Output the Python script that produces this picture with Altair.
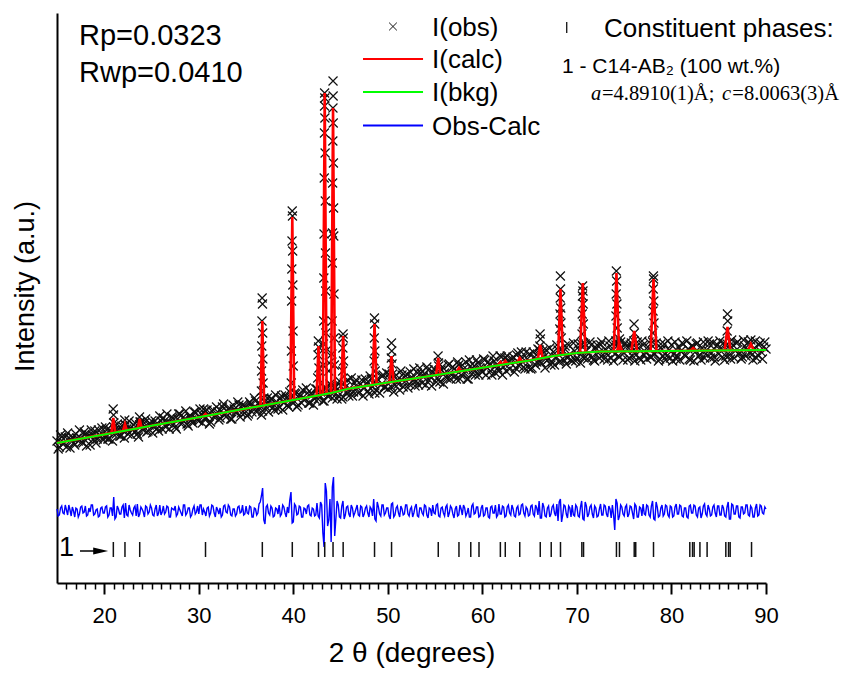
import altair as alt
import numpy as np
import pandas as pd

FONT = "Liberation Sans"
SERIF = "Liberation Serif"

# ---------------- data ----------------
# scan grid 2-theta 15..90 deg; points at 0.25 deg plus the in-between points (values estimated)
scan_start, scan_step = 15.0, 0.25
mid_start = 15.125

obs_band = [
    142, 136, 146, 140, 136, 145, 143, 140, 149, 142, 145, 140, 149, 145, 138, 148, 152, 144, 148, 155,
    146, 153, 144, 151, 156, 149, 154, 147, 152, 158, 149, 155, 153, 160, 149, 158, 154, 160, 151, 158,
    162, 156, 159, 152, 162, 165, 156, 160, 160, 165, 156, 164, 169, 160, 164, 159, 167, 163, 171, 164,
    162, 169, 174, 165, 168, 161, 173, 168, 171, 165, 176, 168, 172, 175, 164, 174, 171, 178, 170, 177,
    176, 169, 179, 175, 182, 174, 177, 172, 181, 185, 177, 184, 173, 181, 176, 187, 180, 185, 176, 185,
    180, 189, 178, 187, 193, 184, 190, 180, 188, 184, 194, 188, 192, 182, 195, 188, 198, 190, 196, 187,
    197, 186, 196, 203, 192, 187, 200, 196, 191, 203, 195, 200, 189, 204, 199, 193, 203, 198, 208, 196,
    194, 204, 209, 198, 203, 193, 208, 201, 209, 199, 206, 214, 202, 198, 210, 206, 198, 213, 206, 211,
    213, 205, 201, 216, 210, 205, 219, 208, 214, 204, 218, 208, 214, 221, 204, 217, 213, 208, 220, 215,
    211, 223, 215, 219, 208, 222, 218, 212, 226, 216, 212, 223, 220, 226, 215, 230, 219, 225, 214, 224,
    229, 215, 226, 221, 233, 220, 226, 233, 224, 218, 231, 226, 233, 222, 231, 237, 225, 229, 222, 232,
    225, 233, 239, 225, 232, 229, 238, 223, 235, 230, 238, 228, 234, 223, 237, 232, 229, 240, 226, 235,
    230, 237, 225, 240, 233, 228, 235, 223, 238, 231, 236, 226, 241, 229, 232, 224, 234, 239, 227, 233,
    238, 229, 224, 236, 232, 239, 227, 234, 223, 237, 231, 240, 228, 235, 225, 233, 239, 230, 226, 237,
    229, 235, 240, 227, 236, 224, 238, 232, 241, 230, 226, 237, 233, 239, 228, 235, 225, 238, 231, 236,
    234,
]
obs_band_mid = [
    134, 148, 139, 146, 150, 135, 146, 138, 145, 153, 141, 151, 137, 148, 153, 144, 140, 153, 147, 143,
    156, 144, 153, 142, 153, 159, 147, 157, 145, 154, 162, 148, 158, 152, 146, 161, 153, 164, 152, 159,
    150, 162, 155, 167, 154, 162, 169, 154, 166, 159, 154, 169, 159, 166, 172, 157, 165, 160, 171, 163,
    174, 160, 165, 173, 159, 172, 166, 176, 163, 172, 179, 166, 174, 164, 178, 171, 181, 166, 178, 170,
    167, 181, 171, 185, 171, 180, 168, 185, 176, 171, 184, 176, 188, 174, 185, 173, 188, 178, 191, 181,
    190, 176, 188, 180, 183, 195, 180, 190, 178, 194, 184, 191, 182, 195, 187, 199, 185, 196, 184, 202,
    184, 200, 191, 187, 205, 191, 203, 190, 199, 187, 204, 192, 207, 196, 190, 204, 190, 207, 196, 210,
    209, 196, 191, 208, 199, 212, 196, 207, 195, 211, 202, 197, 210, 215, 200, 209, 216, 203, 197, 214,
    201, 217, 213, 199, 206, 218, 204, 216, 207, 221, 204, 218, 210, 204, 223, 209, 217, 223, 208, 212,
    224, 208, 221, 212, 227, 210, 215, 227, 208, 225, 227, 214, 224, 211, 228, 217, 231, 216, 231, 215,
    214, 231, 218, 234, 221, 232, 215, 223, 235, 221, 218, 238, 221, 234, 223, 219, 238, 223, 240, 222,
    239, 220, 226, 239, 224, 241, 226, 222, 238, 225, 241, 224, 229, 242, 225, 222, 238, 227, 241, 223,
    240, 223, 238, 227, 222, 241, 225, 242, 228, 224, 241, 226, 229, 240, 222, 239, 227, 223, 242, 225,
    222, 241, 227, 223, 240, 228, 242, 224, 237, 222, 239, 227, 223, 241, 229, 242, 225, 240, 222, 238,
    242, 226, 223, 239, 228, 243, 225, 240, 229, 224, 243, 227, 241, 230, 223, 242, 228, 240, 224, 241,
]

# observed points on the Bragg peaks (2-theta, intensity)
obs_peak_x = [
    20.94, 20.98, 21.02, 22.17, 22.22, 23.73, 23.78, 30.71,
    36.70, 36.74, 36.68, 36.76, 36.66, 36.78, 36.64, 36.80, 36.62,
    39.88, 39.91, 39.86, 39.93, 39.84, 39.95, 39.82, 39.97, 39.80, 39.99, 39.78,
    42.64, 42.68, 42.61, 42.71, 42.58,
    43.31, 43.33, 43.30, 43.34, 43.29, 43.36, 43.27, 43.38, 43.25, 43.40, 43.23, 43.42,
    43.21, 43.44, 43.19, 43.46, 43.17, 43.75, 43.80,
    44.20, 44.21, 44.19, 44.22, 44.18, 44.24, 44.16, 44.26, 44.14, 44.28, 44.12, 44.30,
    44.10, 44.32, 44.08, 44.34,
    45.26, 45.28, 45.24, 45.31, 45.22,
    48.58, 48.61, 48.56, 48.63, 48.54, 48.66,
    50.38, 50.41, 50.36, 50.44, 55.31, 55.36,
    66.10, 66.14, 66.08,
    68.25, 68.27, 68.23, 68.29, 68.21, 68.31, 68.19, 68.34,
    70.60, 70.64, 70.58, 70.66, 70.56, 70.68, 70.54, 70.71,
    74.17, 74.20, 74.15, 74.23, 74.13, 74.26, 74.11, 74.50,
    76.04, 76.08, 76.01,
    78.09, 78.11, 78.07, 78.13, 78.05, 78.15, 78.02,
    85.92, 85.95, 85.89, 88.40,
]
obs_peak_y = [
    174, 168, 160, 163, 158, 166, 161, 172,
    285, 279, 262, 250, 237, 224, 212, 200, 192,
    372, 367, 342, 332, 314, 298, 282, 252, 232, 217, 200,
    242, 236, 228, 215, 205,
    490, 485, 477, 465, 450, 430, 405, 382, 349, 330, 305, 292,
    262, 250, 239, 232, 218, 212, 220,
    502, 487, 475, 460, 442, 420, 400, 375, 350, 347, 320, 289,
    262, 245, 229, 218,
    249, 245, 235, 222, 212,
    265, 259, 245, 232, 222, 212,
    240, 232, 225, 219, 227, 220,
    249, 244, 237,
    307, 294, 285, 275, 269, 260, 254, 245,
    297, 292, 287, 279, 269, 259, 249, 240,
    312, 302, 289, 279, 267, 255, 242, 244,
    259, 250, 242,
    307, 304, 294, 282, 272, 260, 250,
    269, 262, 252, 243,
]

# refined background (green line) knots
bkg_x = [15, 20, 25, 30, 35, 40, 42, 44, 46, 50, 55, 60, 65, 67.5, 70, 72.5, 80, 90]
bkg_y = [140, 148.6, 157.2, 165.8, 174.4, 183, 186.5, 190, 194.6, 200.4, 207.8, 215.2,
         222.6, 227, 230, 231.5, 232, 233]

# calculated profile: peak position, background under it, peak top, half base width
peak_pos = [20.96, 22.19, 23.75, 30.71, 36.72, 39.89, 42.66, 43.32, 44.20, 45.27, 48.59,
            50.39, 55.33, 57.52, 61.90, 62.42, 63.95, 66.12, 68.26, 70.62, 74.18, 74.50,
            76.06, 78.10, 82.30, 85.93, 88.40]
peak_base = [150.3, 152.4, 155.1, 167.0, 177.4, 182.8, 187.7, 188.8, 190.5, 193.1, 198.3,
             201.0, 208.3, 211.5, 218.0, 218.8, 221.0, 224.6, 228.0, 230.1, 231.6, 231.6,
             231.8, 231.9, 232.2, 232.6, 232.8]
peak_top = [165, 159, 164, 169, 262, 366, 237, 490, 475, 247, 259,
            227, 225, 215, 221, 222, 225, 238, 294, 300, 310, 240,
            252, 304, 235, 256, 239]
peak_hw = [0.2, 0.2, 0.2, 0.2, 0.2, 0.2, 0.2, 0.2, 0.2, 0.22, 0.22,
           0.22, 0.22, 0.22, 0.25, 0.25, 0.25, 0.25, 0.25, 0.28, 0.28, 0.28,
           0.3, 0.3, 0.3, 0.3, 0.3]

# Obs-Calc residuals (same two interleaved grids)
diff_vals = [
    2, -4, 5, -3, 1, 6, -5, 0, 3, -6, 4, -2, 5, -4, -1, 6, -3, 2, -5, 4,
    -2, 5, -4, 3, 14, -6, 2, -3, 6, 8, -5, 1, -4, 5, 7, -3, 2, -6, 4, -1,
    3, -5, 6, -2, -4, 5, -1, 4, -6, 2, 5, -3, 1, -5, 6, -2, 3, -4, 5, -1,
    -3, 6, 2, -5, 4, -2, 5, -6, 1, 3, -4, 6, -2, 4, -5, 2, -3, 5, -1, -4,
    5, -3, 4, -6, 2, -2, 9, 23, -13, 6, -4, 3, -5, 2, 6, -3, 4, -6, -2, 19,
    -11, 5, -3, 4, -6, 2, 5, -4, 3, -5, 8, -7, 6, -36, 20, -9, -31, 34, -8, 6,
    -7, 10, -4, 5, -6, 3, -2, 6, -5, 4, -3, 5, -6, 2, 12, -10, 4, -5, 6, -2,
    3, -8, 8, -4, 5, -6, 2, -3, 6, -5, 4, -2, 7, -6, 3, -4, 5, -7, 2, 6,
    -3, 7, -6, 4, -5, 6, -2, 3, -7, 5, -4, 2, 6, -5, 3, -6, 7, -2, 4, -5,
    6, -4, 3, -7, 5, -2, -6, 7, -3, 4, -5, 6, -4, 2, -6, 5, -3, 7, -5, 2,
    -4, 6, -5, 3, 10, -7, 4, -6, 5, -3, 6, -5, -10, 12, -4, 5, -7, 3, 6, -5,
    4, -6, 10, -9, 5, -3, 6, -7, 3, -5, 7, -4, 5, -6, 2, 6, -19, 8, -5, 4,
    -5, 6, -3, 4, -8, 5, -6, 3, 7, -4, 5, -6, 10, -9, 4, -5, 6, -3, 5, -6,
    4, -5, 7, -3, 5, -6, 3, -7, 6, -2, 5, -6, 4, -3, 7, -5, 2, -4, 6, -6,
    5, -4, 3, -6, 9, -8, 6, -3, 5, -7, 4, -2, 6, -5, 3, -6, 7, -4, 5, -3,
    2,
]
diff_vals_mid = [
    -5, 3, -2, 6, -4, 1, 4, -6, 2, -3, 5, -1, -5, 3, 6, -4, 1, -6, 3, -2,
    4, -6, 3, -5, -8, 5, -3, 4, -7, -4, 6, -2, 3, -5, -6, 4, -1, 5, -3, 6,
    -4, 2, -5, 6, -1, -3, 5, -6, 3, 1, -5, 4, -2, 6, -4, 3, -6, 2, -3, 5,
    6, -4, -1, 3, -5, 6, -2, 4, -3, -6, 5, -1, 6, -4, 2, -5, 4, -2, 6, -3,
    -2, 5, -6, 3, -4, 7, 15, -9, 4, -2, 5, -6, 3, -3, -5, 6, -2, 4, 11, -12,
    7, -4, 5, -6, 3, -3, 6, -5, 2, -4, -5, 9, -22, 28, -15, 12, 24, -25, 10, -6,
    5, -8, 4, -3, 6, -5, 2, -4, 5, -6, 3, -2, 4, -5, -8, 9, -3, 6, -4, 3,
    -5, 7, -6, 3, -2, 5, -4, 6, -3, 2, -6, 4, -5, 3, -2, 6, -4, 3, -5, -2,
    6, -5, 3, -2, 4, -6, 5, -3, 2, -5, 6, -4, 3, -2, -6, 5, -3, 4, -6, 3,
    -5, 3, -6, 4, -2, 6, -4, -3, 5, -6, 4, -2, 6, -5, 3, -4, 6, -2, 4, -5,
    5, -3, 6, -4, -7, 8, -5, 3, -6, 4, -2, 7, 9, -11, 6, -3, 5, -6, -4, 6,
    -5, 4, -8, 9, -6, 4, -3, 5, -6, 2, -4, 6, -3, 5, -7, -4, 12, -9, 6, -3,
    4, -6, 5, -2, 7, -6, 4, -5, -3, 6, -4, 5, -8, 9, -6, 3, -5, 6, -4, 5,
    -6, 4, -3, 6, -5, 3, -6, 5, -2, 6, -4, 3, -7, 5, -3, 6, -5, 4, -2, 5,
    -4, 6, -5, 4, -8, 7, -3, 5, -6, 4, -3, 6, -4, 5, -6, 3, -5, 6, -2, 4,
]
diff_offset = 72

# C14-AB2 reflection positions (tick row)
phase_pos = [20.96, 22.19, 23.75, 30.71, 36.72, 39.89, 42.66, 43.32, 44.20, 45.27, 48.59,
             50.39, 55.33, 57.52, 58.77, 59.64, 61.90, 62.42, 63.95, 66.12, 67.28, 68.26,
             70.52, 70.70, 74.18, 74.50, 76.06, 76.22, 78.10, 81.94, 82.23, 82.40, 83.01,
             83.77, 85.75, 86.04, 86.21, 88.47]

major_ticks = [20, 30, 40, 50, 60, 70, 80, 90]
minor_ticks = [v for v in range(16, 90) if v % 10 != 0]

legend_labels = ["I(obs)", "I(calc)", "I(bkg)", "Obs-Calc"]
legend_colors = ["#111111", "#ff0000", "#00ff00", "#0000ff"]

# ---------------- tables ----------------
grid = np.round(scan_start + scan_step * np.arange(len(obs_band)), 3)
grid_mid = np.round(mid_start + scan_step * np.arange(len(obs_band_mid)), 3)

obs_df = pd.DataFrame({
    "x": list(grid) + list(grid_mid) + obs_peak_x,
    "y": obs_band + obs_band_mid + obs_peak_y,
})

calc_rows = [{"x": x, "y": y, "seg": "bkg", "o": i} for i, (x, y) in enumerate(zip(bkg_x, bkg_y))]
for k, (p, b, t, w) in enumerate(zip(peak_pos, peak_base, peak_top, peak_hw)):
    calc_rows += [
        {"x": p - w, "y": b, "seg": f"p{k}", "o": 0},
        {"x": p, "y": t, "seg": f"p{k}", "o": 1},
        {"x": p + w, "y": b, "seg": f"p{k}", "o": 2},
    ]
calc_df = pd.DataFrame(calc_rows)
bkg_df = pd.DataFrame({"x": bkg_x, "y": bkg_y})
diff_df = pd.DataFrame({
    "x": list(grid) + list(grid_mid),
    "y": [diff_offset + d for d in diff_vals + diff_vals_mid],
}).sort_values("x")
phase_df = pd.DataFrame({"x": phase_pos})

# ---------------- scales / axes ----------------
xs = alt.Scale(domain=[15, 90], nice=False, zero=False)
ys = alt.Scale(domain=[0, 570], nice=False, zero=False)

x_axis = alt.Axis(
    orient="bottom", values=major_ticks, format="d", tickSize=11, tickWidth=2, tickColor="black",
    domainWidth=2, domainColor="black", grid=False, labelFont=FONT, labelFontSize=22,
    labelColor="black", labelPadding=11, labelFlush=False,
    title="2 θ (degrees)", titleFont=FONT, titleFontSize=28, titleFontWeight="normal",
    titleColor="black", titleY=78, titleBaseline="alphabetic",
)
minor_axis = alt.Axis(
    orient="bottom", values=minor_ticks, tickSize=6, tickWidth=1.5, tickColor="black",
    domain=False, labels=False, grid=False, title=None,
)
y_axis = alt.Axis(
    orient="left", domain=True, domainWidth=2, domainColor="black", ticks=False, labels=False,
    grid=False, title="Intensity (a.u.)", titleFont=FONT, titleFontSize=27,
    titleFontWeight="normal", titleColor="black", titleX=-24, titleY=273, titleAngle=270,
    titleAlign="center", titleBaseline="alphabetic",
)


def X(field="x"):
    return alt.X(f"{field}:Q", scale=xs, axis=x_axis)


def Y(field="y"):
    return alt.Y(f"{field}:Q", scale=ys, axis=y_axis)


CROSS = "M-1,-1L1,1M-1,1L1,-1"

obs_layer = alt.Chart(obs_df).mark_point(
    shape=CROSS, size=81, strokeWidth=1.2, color="#111111", filled=False, opacity=1
).encode(x=X(), y=Y())

calc_layer = alt.Chart(calc_df).mark_line(color="#ff0000", strokeWidth=2.6).encode(
    x=X(), y=Y(), detail="seg:N", order="o:Q"
)
bkg_layer = alt.Chart(bkg_df).mark_line(color="#00ff00", strokeWidth=2).encode(x=X(), y=Y())
diff_layer = alt.Chart(diff_df).mark_line(color="#0000ff", strokeWidth=1.4).encode(
    x=X(), y=Y(), order="x:Q"
)


# ---------------- annotations ----------------
def text_layer(df, size, font=FONT, style="normal", align="left"):
    return alt.Chart(df).mark_text(
        font=font, fontSize=size, fontStyle=style, align=align, baseline="alphabetic", color="black"
    ).encode(x=X(), y=Y(), text="t:N")


r_df = pd.DataFrame({"x": [17.33, 17.33], "y": [538, 501], "t": ["Rp=0.0323", "Rwp=0.0410"]})
leg_text_df = pd.DataFrame({"x": [54.67] * 4, "y": [547.2, 514.7, 481.7, 448.2], "t": legend_labels})
leg_line_df = pd.DataFrame({"x": [47.37] * 3, "x2": [53.72] * 3, "y": [524, 491, 457.5],
                            "lab": legend_labels[1:]})
leg_mark_df = pd.DataFrame({"x": [50.54], "y": [556.5]})
phase_head_df = pd.DataFrame({"x": [72.86], "y": [546.2], "t": ["Constituent phases:"]})
phase_name_df = pd.DataFrame({"x": [68.42], "y": [510.5], "t": ["1 - C14-AB₂ (100 wt.%)"]})
cell_it_df = pd.DataFrame({"x": [71.49, 85.35], "y": [483, 483], "t": ["a", "c"]})
cell_rm_df = pd.DataFrame({"x": [72.65, 86.44], "y": [483, 483], "t": ["=4.8910(1)Å;", "=8.0063(3)Å"]})
one_df = pd.DataFrame({"x": [15.2], "y": [27], "t": ["1"]})
arrow_df = pd.DataFrame({"x": [17.43], "x2": [19.9], "y": [32]})
arrow_head_df = pd.DataFrame({"x": [19.62], "y": [32]})
leg_bar_df = pd.DataFrame({"x": [68.92]})

leg_lines = alt.Chart(leg_line_df).mark_rule(strokeWidth=2.2).encode(
    x=X(), x2="x2:Q", y=Y(),
    color=alt.Color("lab:N", scale=alt.Scale(domain=legend_labels[1:], range=legend_colors[1:]),
                    legend=None),
)
leg_mark = alt.Chart(leg_mark_df).mark_point(
    shape=CROSS, size=60, strokeWidth=1, color="#111111", filled=False, opacity=1
).encode(x=X(), y=Y())
leg_bar = alt.Chart(leg_bar_df).mark_rule(color="#111111", strokeWidth=1.3).encode(
    x=X(), y=alt.Y(datum=550, scale=ys, axis=y_axis), y2=alt.Y2(datum=561)
)
arrow_line = alt.Chart(arrow_df).mark_rule(color="black", strokeWidth=1.5).encode(
    x=X(), x2="x2:Q", y=Y()
)
arrow_head = alt.Chart(arrow_head_df).mark_point(
    shape="M-1,-0.47L1,0L-1,0.47Z", size=225, filled=True, color="black", opacity=1
).encode(x=X(), y=Y())

main = alt.layer(
    obs_layer, calc_layer, bkg_layer, diff_layer,
    text_layer(r_df, 29),
    text_layer(leg_text_df, 26),
    leg_lines, leg_mark, leg_bar,
    text_layer(phase_head_df, 26),
    text_layer(phase_name_df, 21),
    text_layer(cell_it_df, 20.5, font=SERIF, style="italic"),
    text_layer(cell_rm_df, 20.5, font=SERIF),
    text_layer(one_df, 27),
    arrow_line, arrow_head,
)

phase_layer = alt.Chart(phase_df).mark_rule(color="#111111", strokeWidth=1.5).encode(
    x=alt.X("x:Q", scale=xs, axis=minor_axis),
    y=alt.Y(datum=26, scale=ys, axis=y_axis),
    y2=alt.Y2(datum=41),
)

chart = (
    alt.layer(main, phase_layer)
    .resolve_axis(x="independent")
    .properties(
        width=709, height=570,
        padding={"left": 49, "top": 5, "right": 77, "bottom": 86},
        autosize=alt.AutoSizeParams(type="none"),
        background="white",
    )
    .configure_view(stroke=None)
)

chart.save("out.html", embed_options={"renderer": "svg", "actions": False})
